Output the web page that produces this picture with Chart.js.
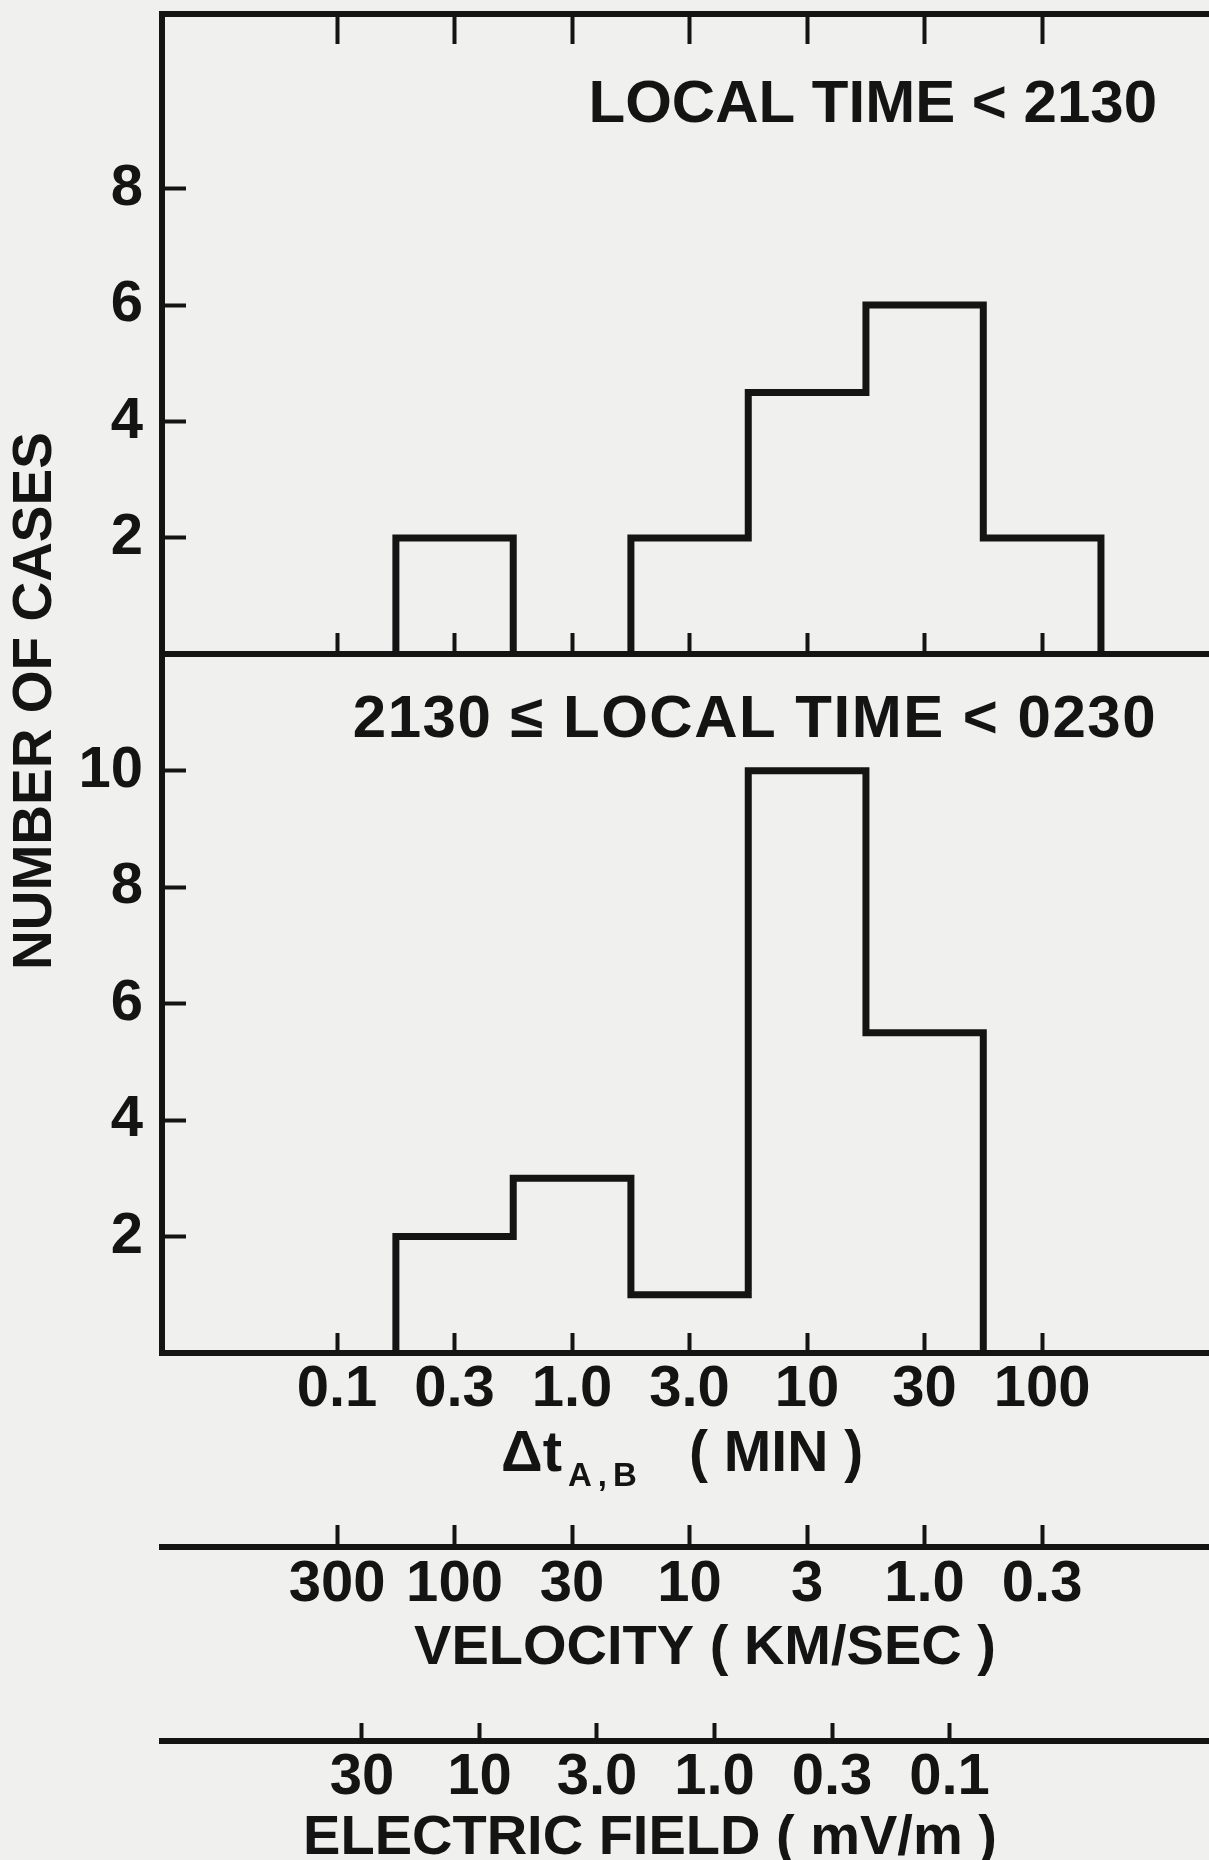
<!DOCTYPE html>
<html>
<head>
<meta charset="utf-8">
<title>Number of cases vs delta t</title>
<script src="https://cdn.jsdelivr.net/npm/chart.js@4.4.1/dist/chart.umd.min.js"></script>
<style>
  html, body { margin: 0; padding: 0; background: #f0f0ee; }
  #wrap { position: relative; width: 1209px; height: 1860px; }
</style>
</head>
<body>
<div id="wrap"><canvas id="histChart"></canvas></div>
<script>
// histogram bin edges, delta t in minutes (half-decade bins)
const binEdges = [0.178, 0.562, 1.78, 5.62, 17.8, 56.2, 178];

// number of cases per bin
const earlyCounts = [2, 0, 2, 4.5, 6, 2];   // local time < 2130
const lateCounts = [2, 3, 1, 10, 5.5, 0];   // 2130 <= local time < 0230

// tick positions and labels
const dtTicks = [0.1, 0.316, 1, 3.16, 10, 31.6, 100];
const dtLabels = ["0.1", "0.3", "1.0", "3.0", "10", "30", "100"];
const velTicks = [300, 94.9, 30, 9.49, 3, 0.949, 0.3];
const velLabels = ["300", "100", "30", "10", "3", "1.0", "0.3"];
const efTicks = [30, 9.49, 3, 0.949, 0.3, 0.0949];
const efLabels = ["30", "10", "3.0", "1.0", "0.3", "0.1"];
const topTicks = [2, 4, 6, 8];
const bottomTicks = [2, 4, 6, 8, 10];

const earlyTitle = "LOCAL TIME < 2130";
const lateTitle = "2130 \u2264 LOCAL TIME < 0230";
const yTitle = "NUMBER OF CASES";
const velTitle = "VELOCITY ( KM/SEC )";
const efTitle = "ELECTRIC FIELD ( mV/m )";

// axis range of delta t and the conversions to the other two scales
const DT_MIN = 0.018;
const DT_MAX = 513;
const VEL_K = 30;    // velocity (km/s) = VEL_K / dt (min)
const EF_K = 3.83;   // field (mV/m) = EF_K / dt (min)

const ink = "#141414";
const family = "'Liberation Sans', Arial, sans-serif";
const tickFont = { family, size: 58, weight: "bold", lineHeight: 1 };
const font = size => `bold ${size}px ${family}`;

// step outline of a histogram, with the pen lifted over empty bins
function outline(counts) {
  const last = binEdges[binEdges.length - 1];
  const pts = [{ x: binEdges[0], y: 0 }];
  counts.forEach((c, i) => {
    pts.push({ x: binEdges[i], y: c });
    if (c === 0) {
      pts.push({ x: binEdges[i], y: null }, { x: binEdges[i + 1], y: 0 });
    }
  });
  pts.push({ x: last, y: 0 });
  return pts;
}

const fixedTicks = values => scale => {
  scale.ticks = values.map(v => ({ value: v }));
};
function noPad(s) {
  s.paddingTop = s.paddingBottom = s.paddingLeft = s.paddingRight = 0;
}

function bottomAxis(type, min, max, values, labels, height, tickLen, pad, reverse) {
  return {
    type, position: "bottom", min, max, reverse,
    afterBuildTicks: fixedTicks(values),
    afterFit: s => { s.height = height; noPad(s); },
    grid: { drawOnChartArea: false, tickLength: tickLen, tickWidth: 4, tickColor: ink },
    border: { color: ink, width: 6 },
    ticks: {
      autoSkip: false, maxRotation: 0, minRotation: 0, padding: pad,
      color: ink, font: tickFont, callback: (v, i) => labels[i]
    }
  };
}

function innerAxis(pos, tickLen) {
  return {
    type: "logarithmic", axis: "x", position: pos, min: DT_MIN, max: DT_MAX,
    afterBuildTicks: fixedTicks(dtTicks),
    grid: { drawOnChartArea: false, tickLength: tickLen, tickWidth: 4, tickColor: ink },
    border: { color: ink, width: 6 },
    ticks: { display: false, autoSkip: false }
  };
}

function countAxis(max, weight, values) {
  return {
    type: "linear", position: "left", stack: "panels", stackWeight: weight,
    min: 0, max,
    afterBuildTicks: fixedTicks(values),
    afterFit: s => { s.width = 162; noPad(s); },
    grid: { drawOnChartArea: false, tickLength: -24, tickWidth: 4, tickColor: ink },
    border: { color: ink, width: 6 },
    ticks: { padding: 43, color: ink, font: tickFont }
  };
}

// titles and the subscripted delta t label
const figureText = {
  id: "figureText",
  afterDraw(chart) {
    const { ctx, chartArea, scales } = chart;
    const left = chartArea.left;
    ctx.save();
    ctx.fillStyle = ink;
    ctx.textBaseline = "alphabetic";

    ctx.font = font(60);
    ctx.textAlign = "right";
    ctx.fillText(earlyTitle, left + 995, scales.yTop.top + 108);
    ctx.letterSpacing = "1.5px";
    ctx.fillText(lateTitle, left + 995, scales.yBot.top + 83);
    ctx.letterSpacing = "0px";

    ctx.font = font(56);
    ctx.textAlign = "center";
    ctx.fillText(velTitle, left + 543, scales.xVel.top + 117);
    ctx.fillText(efTitle, left + 488, scales.xEf.top + 113);

    ctx.textAlign = "left";
    const bx = left + 339;
    const by = scales.x.top + 118;
    ctx.font = font(58);
    ctx.fillText("\u0394t", bx, by);
    const w = ctx.measureText("\u0394t").width;
    ctx.font = font(33);
    ctx.letterSpacing = "6px";
    ctx.fillText("A,B", bx + w + 6, by + 15);
    ctx.letterSpacing = "0px";
    ctx.font = font(57);
    ctx.fillText("( MIN )", left + 527, by);

    ctx.translate(36, 701);
    ctx.rotate(-Math.PI / 2);
    ctx.textAlign = "center";
    ctx.textBaseline = "middle";
    ctx.font = font(55);
    ctx.fillText(yTitle, 0, 0);
    ctx.restore();
  }
};

const lineStyle = {
  borderColor: ink, borderWidth: 7, pointRadius: 0, fill: false, spanGaps: false,
  stepped: true, borderJoinStyle: "miter", borderCapStyle: "butt", clip: false
};

new Chart(document.getElementById("histChart"), {
  type: "line",
  data: {
    datasets: [
      { label: earlyTitle, data: outline(earlyCounts), xAxisID: "x", yAxisID: "yTop", ...lineStyle },
      { label: lateTitle, data: outline(lateCounts), xAxisID: "x", yAxisID: "yBot", ...lineStyle }
    ]
  },
  options: {
    responsive: true,
    maintainAspectRatio: false,
    animation: false,
    layout: { autoPadding: false, padding: { top: 14, left: 0, right: 0, bottom: 0 } },
    plugins: { legend: { display: false }, tooltip: { enabled: false } },
    scales: {
      x: bottomAxis("logarithmic", DT_MIN, DT_MAX, dtTicks, dtLabels, 194, -20, 28, false),
      xVel: bottomAxis("logarithmic", VEL_K / DT_MAX, VEL_K / DT_MIN, velTicks, velLabels, 194, -22, 31, true),
      xEf: bottomAxis("logarithmic", EF_K / DT_MAX, EF_K / DT_MIN, efTicks, efLabels, 119, -18, 26, true),
      xTop: innerAxis({ yTop: 11 }, 27),
      xMid: innerAxis({ yTop: 0 }, -24),
      yBot: countAxis(12, 12, bottomTicks),
      yTop: countAxis(11, 11, topTicks)
    }
  },
  plugins: [figureText]
});
</script>
</body>
</html>
